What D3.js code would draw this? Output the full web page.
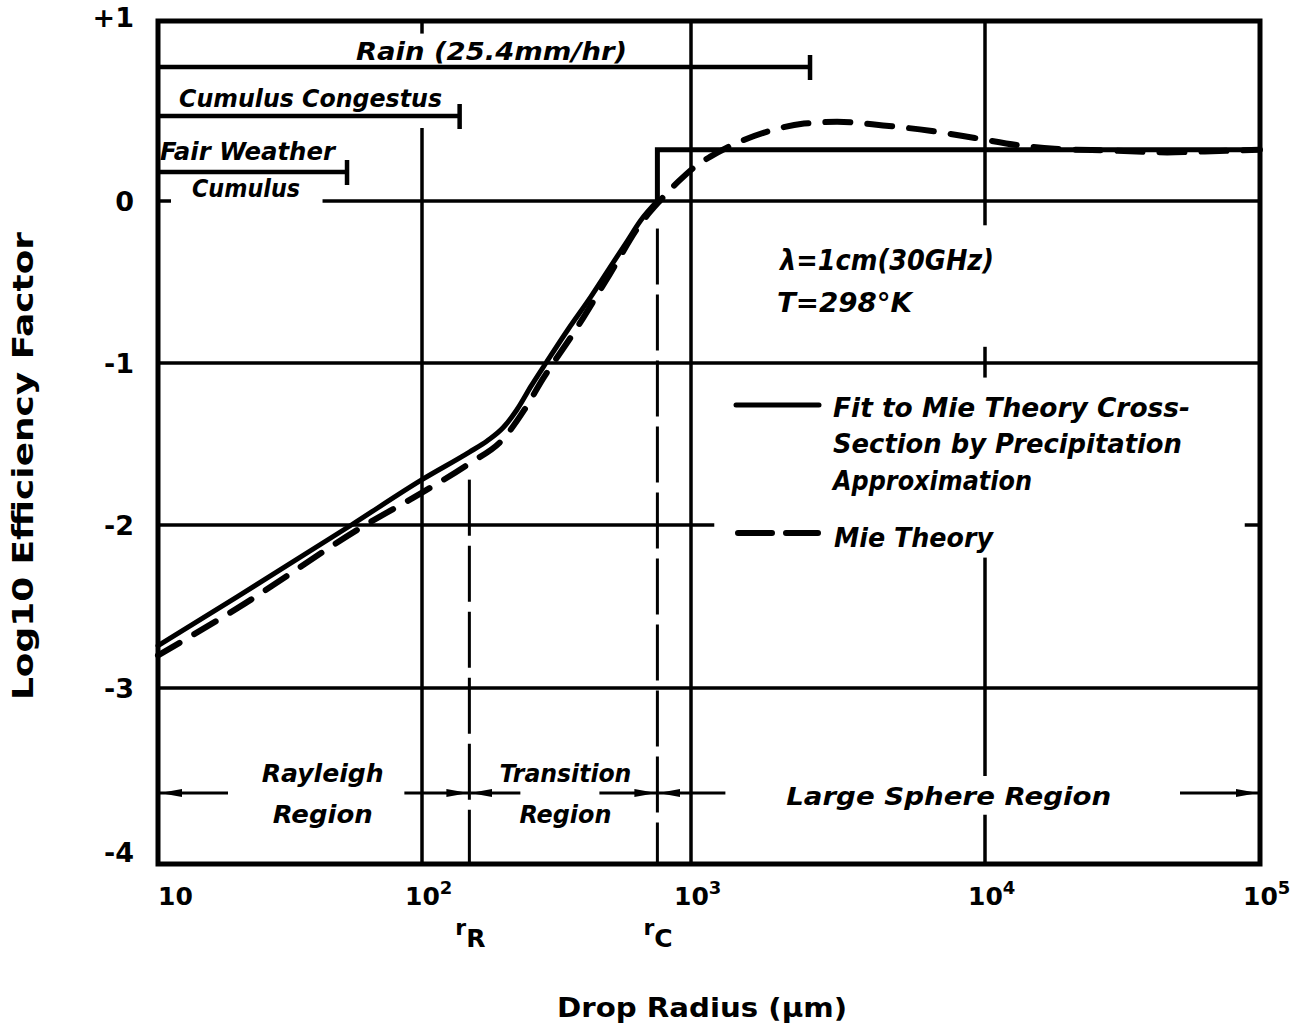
<!DOCTYPE html>
<html><head><meta charset="utf-8">
<script src="https://cdn.jsdelivr.net/npm/d3@7"></script>
<style>
html,body{margin:0;padding:0;background:#fff;}
svg{display:block;}
text{font-family:"DejaVu Sans","Liberation Sans",sans-serif;font-weight:bold;fill:#000;}
.it{font-style:italic;}
</style></head><body>
<svg id="chart" width="1303" height="1036"></svg>
<script>
// ---------------- DATA ----------------
const xTickValues = [10, 100, 1000, 10000, 100000];
const xTickExponents = ["", "2", "3", "4", "5"];
const yTickValues = [1, 0, -1, -2, -3, -4];
const yTickLabels = ["+1", "0", "-1", "-2", "-3", "-4"];

// Fit to Mie theory by precipitation approximation (solid)
const fitRadius = [10, 20, 54, 100, 150, 175, 200, 225, 255, 289, 350, 421, 500, 578, 650, 750];
const fitLogQ   = [-2.74, -2.44, -2.0, -1.72, -1.55, -1.48, -1.40, -1.29, -1.14, -1.0, -0.79, -0.60, -0.41, -0.25, -0.12, 0.0];
const fitLargeSphereLogQ = 0.285;
const fitMaxRadius = 100000;

// Mie theory (dashed)
const mieRadius = [10, 20, 61, 100, 150, 200, 240, 281, 371, 500, 650, 765, 900, 1031, 1160, 1468, 1856, 2423, 3140, 4500, 6500, 9230, 13130, 17900, 28800, 46000, 63000, 100000];
const mieLogQ   = [-2.80, -2.51, -2.0, -1.80, -1.62, -1.47, -1.29, -1.10, -0.80, -0.45, -0.14, 0.0, 0.11, 0.19, 0.245, 0.33, 0.39, 0.43, 0.44, 0.42, 0.39, 0.35, 0.31, 0.29, 0.28, 0.27, 0.275, 0.285];

const rR = 150, rC = 750;
const cloudNames = ["Rain (25.4mm/hr)", "Cumulus Congestus", "Fair Weather"];
const cloudSubNames = ["", "", "Cumulus"];
const cloudMaxRadius = [2540, 138, 52];
const regionNames = [["Rayleigh", "Region"], ["Transition", "Region"], ["Large Sphere Region"]];
const regionFrom = [10, 150, 750];
const regionTo = [150, 750, 100000];
const conditionLabels = ["λ=1cm(30GHz)", "T=298°K"];
const legendSolidLabel = ["Fit to Mie Theory Cross-", "Section by Precipitation", "Approximation"];
const legendDashedLabel = ["Mie Theory"];
const xTitle = "Drop Radius (μm)";
const yTitle = "Log10 Efficiency Factor";

// ---------------- LAYOUT ----------------
const svg = d3.select("#chart");
const x = d3.scaleLog().domain([10, 100, 1000, 10000, 100000]).range([158, 422, 691, 985, 1260]);
const y = d3.scaleLinear().domain([1, 0, -1, -2, -3, -4]).range([21, 201, 363, 525, 688, 864]);
const INK = "#000";

// gridlines (with gaps where the original lettering interrupts them)
const hGrid = [
  {v: 0, segs: [[10, 11.2], [42, 100000]]},
  {v: -1, segs: [[10, 100000]]},
  {v: -2, segs: [[10, 1200], [88000, 100000]]},
  {v: -3, segs: [[10, 100000]]}
];
const vGrid = [
  {r: 100, segs: [[1, 0.93], [0.405, -4]]},
  {r: 1000, segs: [[1, -4]]},
  {r: 10000, segs: [[1, -0.15], [-0.9, -1.09], [-2.2, -3.5], [-3.72, -4]]}
];
const g = svg.append("g");
hGrid.forEach(h => h.segs.forEach(s => {
  g.append("line").attr("x1", x(s[0])).attr("x2", x(s[1])).attr("y1", y(h.v)).attr("y2", y(h.v))
    .attr("stroke", INK).attr("stroke-width", 3.5);
}));
vGrid.forEach(vv => vv.segs.forEach(s => {
  g.append("line").attr("x1", x(vv.r)).attr("x2", x(vv.r)).attr("y1", y(s[0])).attr("y2", y(s[1]))
    .attr("stroke", INK).attr("stroke-width", 3.5);
}));

// frame
g.append("rect").attr("x", x(10)).attr("y", y(1))
  .attr("width", x(100000) - x(10)).attr("height", y(-4) - y(1))
  .attr("fill", "none").attr("stroke", INK).attr("stroke-width", 5);

// r_R and r_C dashed verticals
[[rR, -1.72], [rC, -0.17]].forEach(([r, top]) => {
  g.append("line").attr("x1", x(r)).attr("x2", x(r)).attr("y1", y(top)).attr("y2", y(-4))
    .attr("stroke", INK).attr("stroke-width", 3).attr("stroke-dasharray", "56,10");
});

// curves
const fitData = fitRadius.map((r, i) => ({r, v: fitLogQ[i]}));
const mieData = mieRadius.map((r, i) => ({r, v: mieLogQ[i]}));
const line = d3.line().x(d => x(d.r)).y(d => y(d.v)).curve(d3.curveMonotoneX);
const lineLin = d3.line().x(d => x(d.r)).y(d => y(d.v));
g.append("path").attr("d", line(mieData)).attr("fill", "none").attr("stroke", INK)
  .attr("stroke-width", 6).attr("stroke-dasharray", "25,17").attr("stroke-linecap", "round");
g.append("path").attr("d", line(fitData)).attr("fill", "none").attr("stroke", INK)
  .attr("stroke-width", 5).attr("stroke-linecap", "round");
const last = fitData[fitData.length - 1];
g.append("path").attr("d", lineLin([last, {r: last.r, v: fitLargeSphereLogQ}, {r: fitMaxRadius, v: fitLargeSphereLogQ}]))
  .attr("fill", "none").attr("stroke", INK).attr("stroke-width", 5).attr("stroke-linejoin", "miter");

// cloud range bars
const barY = [67, 116, 172];
const cloudTextY = [60, 107, 160];
const cloudTextX = [356, 179, 160];
const cloudTextLen = [271, 263, 175];
cloudNames.forEach((name, i) => {
  g.append("line").attr("x1", x(10)).attr("x2", x(cloudMaxRadius[i])).attr("y1", barY[i]).attr("y2", barY[i])
    .attr("stroke", INK).attr("stroke-width", 4.5);
  g.append("line").attr("x1", x(cloudMaxRadius[i])).attr("x2", x(cloudMaxRadius[i]))
    .attr("y1", barY[i] - 12).attr("y2", barY[i] + 13).attr("stroke", INK).attr("stroke-width", 4.5);
  g.append("text").attr("class", "it").attr("x", cloudTextX[i]).attr("y", cloudTextY[i])
    .attr("font-size", 24).attr("textLength", cloudTextLen[i]).attr("lengthAdjust", "spacingAndGlyphs").text(name);
  if (cloudSubNames[i]) {
    g.append("text").attr("class", "it").attr("x", 192).attr("y", 197)
      .attr("font-size", 24).attr("textLength", 108).attr("lengthAdjust", "spacingAndGlyphs").text(cloudSubNames[i]);
  }
});

// conditions
g.append("text").attr("class", "it").attr("x", 780).attr("y", 270).attr("font-size", 29)
  .attr("textLength", 214).attr("lengthAdjust", "spacingAndGlyphs").text(conditionLabels[0]);
g.append("text").attr("class", "it").attr("x", 777).attr("y", 312).attr("font-size", 27)
  .attr("textLength", 135).attr("lengthAdjust", "spacingAndGlyphs").text(conditionLabels[1]);

// legend
g.append("line").attr("x1", 736).attr("x2", 819).attr("y1", 405).attr("y2", 405)
  .attr("stroke", INK).attr("stroke-width", 5).attr("stroke-linecap", "round");
g.append("line").attr("x1", 738).attr("x2", 818).attr("y1", 533).attr("y2", 533)
  .attr("stroke", INK).attr("stroke-width", 6).attr("stroke-dasharray", "34,14").attr("stroke-linecap", "round");
const legLen = [357, 349, 199];
const legBase = [417, 453, 490];
legendSolidLabel.forEach((t, i) => {
  g.append("text").attr("class", "it").attr("x", 833).attr("y", legBase[i]).attr("font-size", 27)
    .attr("textLength", legLen[i]).attr("lengthAdjust", "spacingAndGlyphs").text(t);
});
g.append("text").attr("class", "it").attr("x", 834).attr("y", 547).attr("font-size", 27)
  .attr("textLength", 159).attr("lengthAdjust", "spacingAndGlyphs").text(legendDashedLabel[0]);

// region arrows and labels
const defs = svg.append("defs");
defs.append("marker").attr("id", "ah").attr("markerUnits", "userSpaceOnUse")
  .attr("markerWidth", 24).attr("markerHeight", 10).attr("refX", 22).attr("refY", 5)
  .attr("orient", "auto")
  .append("path").attr("d", "M0,1 L22,5 L0,9 Z").attr("fill", INK);
const arrowY = 793;
const arrowLeftLen = [70, 51, 68];
const arrowRightLen = [65, 58, 80];
const regionTextLen = [[122, 100], [132, 92], [325]];
const regionCenterShift = [9, 2, -10];
regionNames.forEach((names, i) => {
  const xa = x(regionFrom[i]), xb = x(regionTo[i]);
  g.append("line").attr("x1", xa + arrowLeftLen[i]).attr("x2", xa + (i === 0 ? 2 : 1)).attr("y1", arrowY).attr("y2", arrowY)
    .attr("stroke", INK).attr("stroke-width", 3).attr("marker-end", "url(#ah)");
  g.append("line").attr("x1", xb - arrowRightLen[i]).attr("x2", xb - (i === 2 ? 2 : 1)).attr("y1", arrowY).attr("y2", arrowY)
    .attr("stroke", INK).attr("stroke-width", 3).attr("marker-end", "url(#ah)");
  const cx = (xa + xb) / 2 + regionCenterShift[i];
  if (names.length === 2) {
    g.append("text").attr("class", "it").attr("x", cx).attr("y", 782).attr("text-anchor", "middle")
      .attr("font-size", 24).attr("textLength", regionTextLen[i][0]).attr("lengthAdjust", "spacingAndGlyphs").text(names[0]);
    g.append("text").attr("class", "it").attr("x", cx).attr("y", 823).attr("text-anchor", "middle")
      .attr("font-size", 24).attr("textLength", regionTextLen[i][1]).attr("lengthAdjust", "spacingAndGlyphs").text(names[1]);
  } else {
    g.append("text").attr("class", "it").attr("x", cx).attr("y", 805).attr("text-anchor", "middle")
      .attr("font-size", 24).attr("textLength", regionTextLen[i][0]).attr("lengthAdjust", "spacingAndGlyphs").text(names[0]);
  }
});

// y tick labels
yTickValues.forEach((v, i) => {
  g.append("text").attr("x", 134).attr("y", y(v) + (i === yTickValues.length - 1 ? -12 : (i === 0 ? -4 : 0)))
    .attr("dy", "0.36em").attr("text-anchor", "end").attr("font-size", 27).text(yTickLabels[i]);
});

// x tick labels
xTickValues.forEach((v, i) => {
  const t = g.append("text").attr("x", i === 0 ? x(v) : x(v) - 17).attr("y", 905).attr("font-size", 25);
  t.append("tspan").text("10");
  if (xTickExponents[i]) t.append("tspan").attr("dy", -11).attr("font-size", 18).text(xTickExponents[i]);
});

// r_R, r_C labels
[[rR, "R"], [rC, "C"]].forEach(([r, sub]) => {
  const t = g.append("text").attr("x", x(r) - 14).attr("y", 935).attr("font-size", 22);
  t.append("tspan").text("r");
  t.append("tspan").attr("dy", 12).attr("font-size", 25).text(sub);
});

// axis titles
g.append("text").attr("x", 702).attr("y", 1017).attr("text-anchor", "middle").attr("font-size", 27)
  .attr("textLength", 290).attr("lengthAdjust", "spacingAndGlyphs").text(xTitle);
g.append("text").attr("transform", "translate(23,466) rotate(-90)").attr("text-anchor", "middle")
  .attr("dy", "0.36em").attr("font-size", 29).attr("textLength", 468).attr("lengthAdjust", "spacingAndGlyphs").text(yTitle);
</script>
</body></html>
